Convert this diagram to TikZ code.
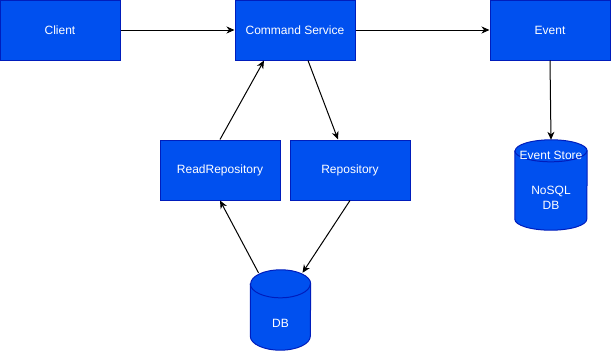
\documentclass[tikz,border=0pt]{standalone}
\usepackage{fontspec}
\setmainfont{Liberation Sans}
\usetikzlibrary{arrows.meta}

\definecolor{boxfill}{HTML}{0050EF}
\definecolor{boxline}{HTML}{001DBC}

\tikzset{
  svc/.style={draw=boxline,fill=boxfill,line width=1pt,minimum width=120,minimum height=60,
    text=white,font=\fontsize{12}{15}\selectfont},
  store/.style={draw=boxline,fill=boxfill,line width=1pt},
  lbl/.style={text=white,font=\fontsize{12}{15}\selectfont,align=center,inner sep=0},
  flow/.style={-{Stealth[length=8pt,width=7pt,inset=2.5pt]},line width=1pt}
}

% cylinder: name, centre, width, height, cap radius
\newcommand\dbcyl[5]{
  \node[inner sep=0,minimum width=#3,minimum height=#4] (#1) at (#2) {};
  \draw[store] ([yshift=-#5]#1.north west) -- ([yshift=#5]#1.south west)
    arc[start angle=180,end angle=360,x radius=#3/2*1pt,y radius=#5pt]
    -- ([yshift=-#5]#1.north east)
    arc[start angle=0,end angle=180,x radius=#3/2*1pt,y radius=#5pt] -- cycle;
  \draw[boxline,line width=1pt] ([yshift=-#5]#1.north west)
    arc[start angle=180,end angle=360,x radius=#3/2*1pt,y radius=#5pt];
}

\begin{document}
\begin{tikzpicture}[x=1pt,y=-1pt]
\useasboundingbox (0,0) rectangle (611,351);

% services
\node[svc] (client) at (60,30) {Client};
\node[svc] (cmdsvc) at (295,30) {Command Service};
\node[svc] (event) at (550,30) {Event};
\node[svc] (readrepo) at (220,170) {ReadRepository};
\node[svc] (repo) at (350,170) {Repository};

% stores
\dbcyl{db}{280.5,310}{60}{80}{14}
\node[lbl] at (280.5,323) {DB};
\dbcyl{evstore}{551,185}{72}{90}{11}
\node[lbl] at (551,155) {Event Store};
\node[lbl] at (551,198) {NoSQL\\DB};

% connectors
\draw[flow] (client) -- (cmdsvc);
\draw[flow] (cmdsvc) -- (event);
\draw[flow] (event.south) -- (evstore.north);
\draw[flow] ([xshift=13]cmdsvc.south) -- ([xshift=-12]repo.north);
\draw[flow] (readrepo.north) -- ([xshift=-31]cmdsvc.south);
\draw[flow] ([xshift=-22,yshift=-3]db.north) -- (readrepo.south);
\draw[flow] (repo.south) -- ([xshift=22,yshift=-3]db.north);
\end{tikzpicture}
\end{document}
